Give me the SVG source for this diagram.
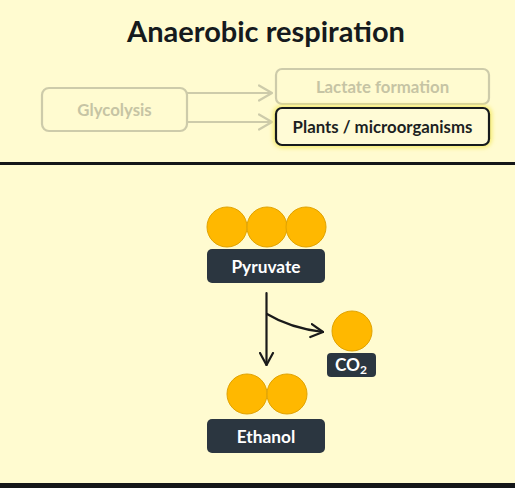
<svg xmlns="http://www.w3.org/2000/svg" width="515" height="488" viewBox="0 0 515 488">
  <style>
    text { font-family: Lato, "Noto Sans", "Liberation Sans", sans-serif; font-weight: bold; }
    .faint { fill: none; stroke: #cdcbaa; stroke-width: 2.2; }
    .faintText { fill: #c6c4a4; font-size: 16.8px; }
    .dark { fill: #2b3640; }
    .lbl { fill: #ffffff; font-size: 17.3px; }
    .ball { fill: #ffb800; stroke: #e0a200; stroke-width: 1; }
    .conn { fill: none; stroke: #1a1a1a; stroke-width: 2.2; stroke-linecap: round; stroke-linejoin: round; }
  </style>
  <defs>
    <marker id="faintHead" viewBox="0 0 15 18" refX="14" refY="9" markerWidth="15" markerHeight="18" markerUnits="userSpaceOnUse" orient="auto">
      <path d="M1,1.5 L14,9 L1,16.5" fill="none" stroke="#cdcbaa" stroke-width="2.2" stroke-linecap="round" stroke-linejoin="round"/>
    </marker>
    <marker id="darkHead" viewBox="0 0 14 16" refX="13" refY="8" markerWidth="14" markerHeight="16" markerUnits="userSpaceOnUse" orient="auto">
      <path d="M1,1.5 L13,8 L1,14.5" fill="none" stroke="#1a1a1a" stroke-width="2.2" stroke-linecap="round" stroke-linejoin="round"/>
    </marker>
    <filter id="glow" x="-20%" y="-40%" width="140%" height="180%">
      <feGaussianBlur stdDeviation="2"/>
    </filter>
  </defs>
  <rect x="0" y="0" width="515" height="488" fill="#fffbd0"/>
  <text x="266" y="42" text-anchor="middle" font-size="29" fill="#161a1d">Anaerobic respiration</text>

  <g id="connectors">
    <line x1="187" y1="93" x2="272" y2="93" class="faint" marker-end="url(#faintHead)"/>
    <line x1="187" y1="122" x2="272" y2="122" class="faint" marker-end="url(#faintHead)"/>
    <line x1="266.5" y1="293" x2="266.5" y2="365" class="conn" marker-end="url(#darkHead)"/>
    <path d="M267,314 Q290,328 323,332" class="conn" marker-end="url(#darkHead)"/>
  </g>

  <g id="glycolysis">
    <rect x="42" y="88" width="145" height="43" rx="7" class="faint"/>
    <text x="114.5" y="116" text-anchor="middle" class="faintText">Glycolysis</text>
  </g>
  <g id="lactate">
    <rect x="276" y="69" width="213" height="35" rx="6" class="faint"/>
    <text x="382.5" y="93" text-anchor="middle" class="faintText">Lactate formation</text>
  </g>
  <g id="plants">
    <rect x="276" y="108" width="213" height="37" rx="6" fill="none" stroke="#f6ec70" stroke-width="6" filter="url(#glow)"/>
    <rect x="276" y="108" width="213" height="37" rx="6" fill="#fffbd6" stroke="#161a1d" stroke-width="2.2"/>
    <text x="382.5" y="133" text-anchor="middle" font-size="16.8" fill="#1c1f22">Plants / microorganisms</text>
  </g>

  <rect x="0" y="162" width="515" height="3" fill="#141618"/>

  <g id="pyruvate">
    <circle cx="227" cy="227" r="20" class="ball"/>
    <circle cx="267" cy="227" r="20" class="ball"/>
    <circle cx="306" cy="227" r="20" class="ball"/>
    <rect x="207" y="249" width="118" height="34" rx="5" class="dark"/>
    <text x="266" y="273" text-anchor="middle" class="lbl">Pyruvate</text>
  </g>
  <g id="co2">
    <circle cx="352" cy="331" r="20" class="ball"/>
    <rect x="327" y="353" width="49" height="24" rx="4" class="dark"/>
    <text x="351" y="371" text-anchor="middle" class="lbl">CO<tspan font-size="12" dy="3">2</tspan></text>
  </g>
  <g id="ethanol">
    <circle cx="247" cy="394" r="20" class="ball"/>
    <circle cx="287" cy="394" r="20" class="ball"/>
    <rect x="207" y="419" width="118" height="34" rx="5" class="dark"/>
    <text x="266" y="443" text-anchor="middle" class="lbl">Ethanol</text>
  </g>

  <rect x="0" y="483" width="515" height="5" fill="#141618"/>
</svg>
